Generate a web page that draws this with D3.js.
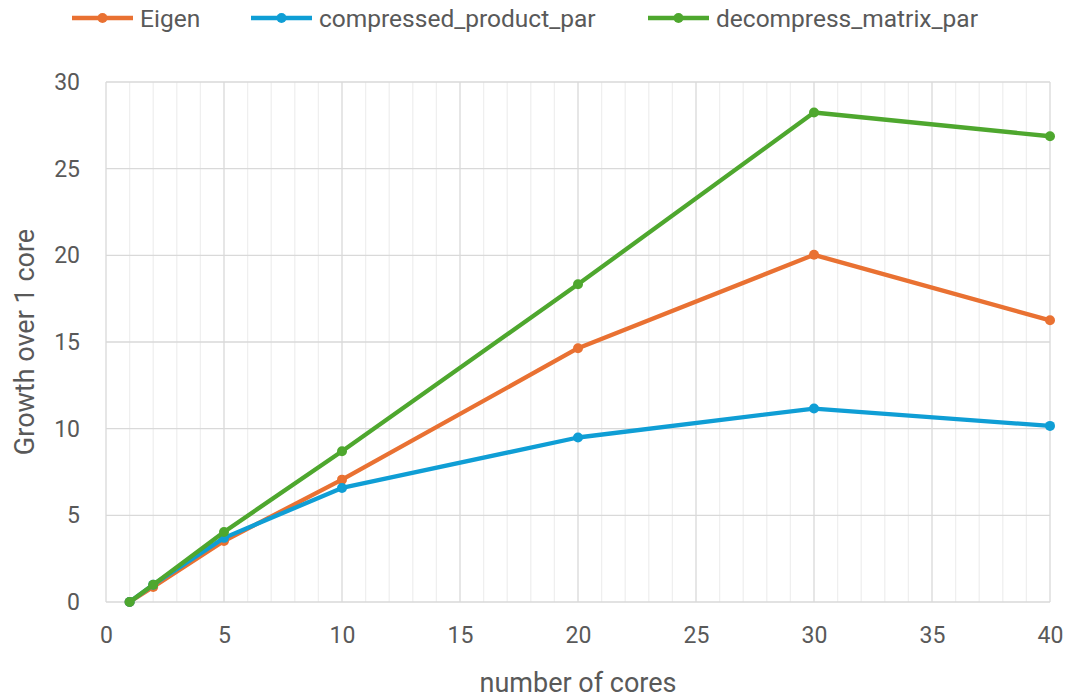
<!DOCTYPE html>
<html>
<head>
<meta charset="utf-8">
<script src="https://cdn.jsdelivr.net/npm/d3@7"></script>
<style>
  html, body { margin: 0; padding: 0; background: #fff; }
  svg { display: block; }
  text { font-family: Roboto, "Open Sans", sans-serif; fill: #595959; }
</style>
</head>
<body>
<svg id="chart" width="1069" height="698"></svg>
<script>
// Speed-up relative to a single core
const cores = [1, 2, 5, 10, 20, 30, 40];
const eigen = [0, 0.87, 3.52, 7.06, 14.64, 20.03, 16.25];
const compressedProductPar = [0, 1.0, 3.7, 6.58, 9.49, 11.16, 10.16];
const decompressMatrixPar = [0, 1.0, 4.04, 8.7, 18.33, 28.24, 26.87];
const seriesNames = ["Eigen", "compressed_product_par", "decompress_matrix_par"];
const seriesColors = ["#E97132", "#0F9ED5", "#4EA72E"];
const xTicks = [0, 5, 10, 15, 20, 25, 30, 35, 40];
const yTicks = [0, 5, 10, 15, 20, 25, 30];

const svg = d3.select("#chart");
const margin = { left: 106, right: 19, top: 82, bottom: 96 };
const W = 1069, H = 698;

const x = d3.scaleLinear().domain([0, 40]).range([margin.left, W - margin.right]);
const y = d3.scaleLinear().domain([0, 30]).range([H - margin.bottom, margin.top]);

const grid = svg.append("g");
// minor vertical gridlines (every core)
grid.selectAll("line.minor").data(d3.range(1, 40).filter(d => d % 5 !== 0)).join("line")
  .attr("x1", d => x(d)).attr("x2", d => x(d))
  .attr("y1", y(0)).attr("y2", y(30))
  .attr("stroke", "#efefef").attr("stroke-width", 1.3);
// major vertical gridlines
grid.selectAll("line.vmaj").data(xTicks).join("line")
  .attr("x1", d => x(d)).attr("x2", d => x(d))
  .attr("y1", y(0)).attr("y2", y(30))
  .attr("stroke", "#d9d9d9").attr("stroke-width", 1.3);
// horizontal gridlines
grid.selectAll("line.h").data(yTicks).join("line")
  .attr("x1", x(0)).attr("x2", x(40))
  .attr("y1", d => y(d)).attr("y2", d => y(d))
  .attr("stroke", "#d9d9d9").attr("stroke-width", 1.3);

// axes
const xAxis = svg.append("g").attr("transform", `translate(0,${y(0)})`)
  .call(d3.axisBottom(x).tickValues(xTicks).tickSize(0).tickPadding(25));
xAxis.select(".domain").remove();
xAxis.selectAll("text").style("font-size", "23px").attr("fill", "#595959");

const yAxis = svg.append("g").attr("transform", `translate(${x(0)},0)`)
  .call(d3.axisLeft(y).tickValues(yTicks).tickSize(0).tickPadding(26));
yAxis.select(".domain").remove();
yAxis.selectAll("text").style("font-size", "23px").attr("fill", "#595959");

// axis titles
svg.append("text").attr("x", x(20)).attr("y", 692)
  .attr("text-anchor", "middle").style("font-size", "27px").text("number of cores");
svg.append("text").attr("transform", `translate(34,${(y(0) + y(30)) / 2}) rotate(-90)`)
  .attr("text-anchor", "middle").style("font-size", "27px").text("Growth over 1 core");

// series
const allSeries = [eigen, compressedProductPar, decompressMatrixPar];
const line = d3.line().x((d, i) => x(cores[i])).y(d => y(d));
allSeries.forEach((vals, k) => {
  const g = svg.append("g");
  g.append("path").datum(vals).attr("d", line)
    .attr("fill", "none").attr("stroke", seriesColors[k])
    .attr("stroke-width", 4.3).attr("stroke-linejoin", "round");
  g.selectAll("circle").data(vals).join("circle")
    .attr("cx", (d, i) => x(cores[i])).attr("cy", d => y(d))
    .attr("r", 5).attr("fill", seriesColors[k]);
});

// legend
const legendX = [72, 251, 648];
const legend = svg.append("g");
seriesNames.forEach((name, k) => {
  const g = legend.append("g").attr("transform", `translate(${legendX[k]},18)`);
  g.append("line").attr("x1", 0).attr("x2", 61).attr("stroke", seriesColors[k]).attr("stroke-width", 4.3);
  g.append("circle").attr("cx", 30.5).attr("r", 5).attr("fill", seriesColors[k]);
  g.append("text").attr("x", 68).attr("dy", "0.35em").style("font-size", "24.5px").text(name);
});
</script>
</body>
</html>
